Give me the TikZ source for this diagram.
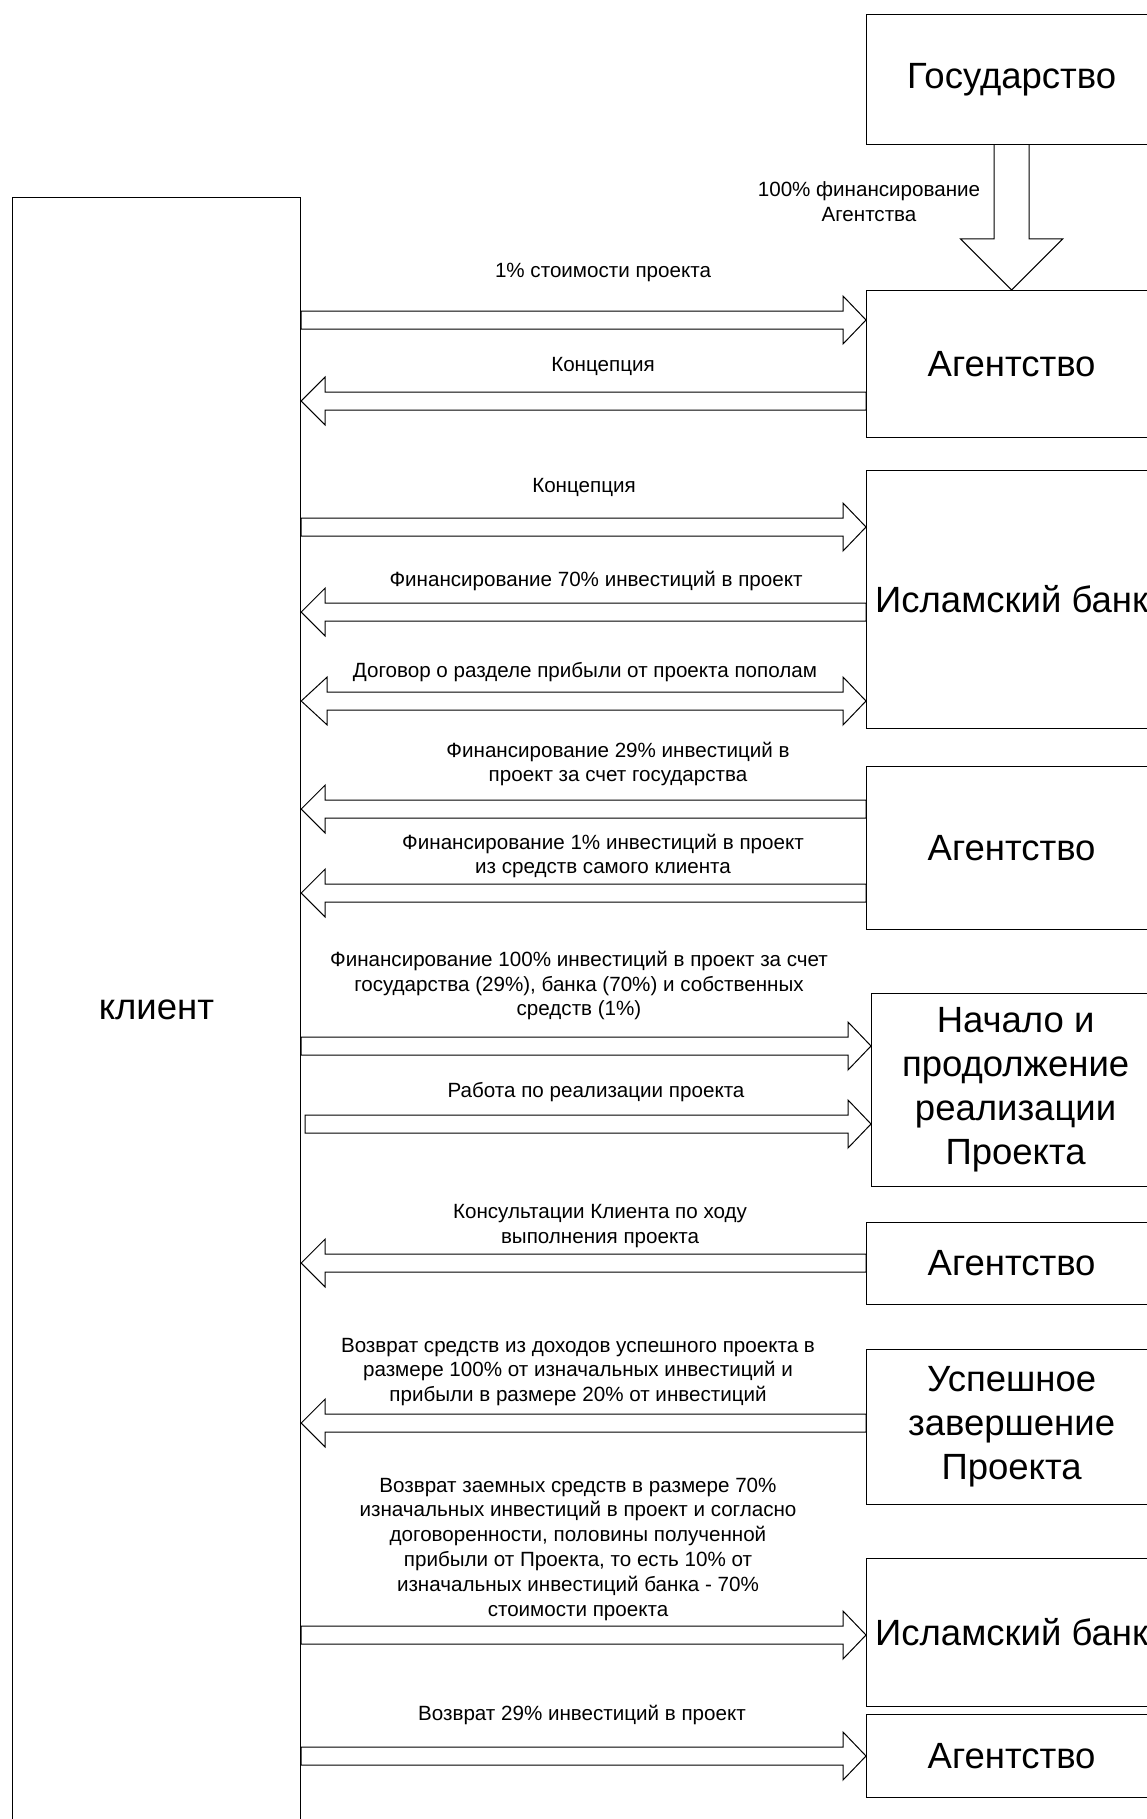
\documentclass[tikz,border=0pt]{standalone}
\usepackage{fontspec}
\setmainfont{Liberation Sans}
\usetikzlibrary{calc}
\newcommand\rightblock[2]{\draw[blk] ($(#1)+(0,-9)$) -- ($(#2)+(-23,-9)$) -- ($(#2)+(-23,-24)$) -- (#2) -- ($(#2)+(-23,24)$) -- ($(#2)+(-23,9)$) -- ($(#1)+(0,9)$) -- cycle;}
\newcommand\leftblock[2]{\draw[blk] (#1) -- ($(#1)+(24,-24)$) -- ($(#1)+(24,-9)$) -- ($(#2)+(0,-9)$) -- ($(#2)+(0,9)$) -- ($(#1)+(24,9)$) -- ($(#1)+(24,24)$) -- cycle;}
\newcommand\bothblock[2]{\draw[blk] (#1) -- ($(#1)+(26,-24)$) -- ($(#1)+(26,-9)$) -- ($(#2)+(-23,-9)$) -- ($(#2)+(-23,-24)$) -- (#2) -- ($(#2)+(-23,24)$) -- ($(#2)+(-23,9)$) -- ($(#1)+(26,9)$) -- ($(#1)+(26,24)$) -- cycle;}
\begin{document}
\begin{tikzpicture}[x=1pt,y=-1pt,
  box/.style={draw=black,line width=1.2pt,anchor=north west,inner sep=0pt,align=center,
    font=\fontsize{36.5}{44}\selectfont,minimum width=290pt},
  lbl/.style={align=center,inner sep=0pt,font=\fontsize{20.6}{24.8}\selectfont},
  blk/.style={draw=black,line width=1pt,line join=miter}]
\useasboundingbox (0,0) rectangle (1147,1819);

% boxes
\node[box,minimum width=288.4pt,minimum height=1624pt] (client) at (11.6,197) {клиент};
\node[box,minimum height=130pt] (gos) at (866,14) {Государство};
\node[box,minimum height=147pt] (ag1) at (866,290) {Агентство};
\node[box,minimum height=258pt] (isl1) at (866,470) {Исламский банк};
\node[box,minimum height=163pt] (ag2) at (866,766) {Агентство};
\node[box,minimum width=288pt,minimum height=193pt] (start) at (871,993) {Начало и\\продолжение\\реализации\\Проекта};
\node[box,minimum height=82pt] (ag3) at (866,1222) {Агентство};
\node[box,minimum height=155pt] (succ) at (866,1349) {Успешное\\завершение\\Проекта};
\node[box,minimum height=148pt] (isl2) at (866,1558) {Исламский банк};
\node[box,minimum height=83pt] (ag4) at (866,1714) {Агентство};

% down arrow
\draw[blk] ($(gos.south)+(-17.5,0)$) -- ($(ag1.north)+(-17.5,-51)$) -- ($(ag1.north)+(-51,-51)$) -- (ag1.north) -- ($(ag1.north)+(51,-51)$) -- ($(ag1.north)+(17.5,-51)$) -- ($(gos.south)+(17.5,0)$);
\node[lbl] (lgos) at (869,202) {100\% финансирование\\Агентства};

% anchor points of horizontal arrows
\path (client.east |- 0,320) coordinate (a1s) (ag1.west |- 0,320) coordinate (a1e)
      (client.east |- 0,401) coordinate (a2s) (ag1.west |- 0,401) coordinate (a2e)
      (client.east |- 0,527) coordinate (a3s) (isl1.west |- 0,527) coordinate (a3e)
      (client.east |- 0,612) coordinate (a4s) (isl1.west |- 0,612) coordinate (a4e)
      (client.east |- 0,701) coordinate (a5s) (isl1.west |- 0,701) coordinate (a5e)
      (client.east |- 0,809) coordinate (a6s) (ag2.west |- 0,809) coordinate (a6e)
      (client.east |- 0,893) coordinate (a7s) (ag2.west |- 0,893) coordinate (a7e)
      (client.east |- 0,1046) coordinate (a8s) (start.west |- 0,1046) coordinate (a8e)
      ($(client.east |- 0,1124)+(4,0)$) coordinate (a9s) (start.west |- 0,1124) coordinate (a9e)
      (client.east |- 0,1263) coordinate (a10s) (ag3.west |- 0,1263) coordinate (a10e)
      (client.east |- 0,1423) coordinate (a11s) (succ.west |- 0,1423) coordinate (a11e)
      (client.east |- 0,1635) coordinate (a12s) (isl2.west |- 0,1635) coordinate (a12e)
      (client.east |- 0,1756) coordinate (a13s) (ag4.west |- 0,1756) coordinate (a13e);

\rightblock{a1s}{a1e}
\node[lbl] (l1) at (603,272) {1\% стоимости проекта};
\leftblock{a2s}{a2e}
\node[lbl] (l2) at (603,366) {Концепция};
\rightblock{a3s}{a3e}
\node[lbl] (l3) at (584,487) {Концепция};
\leftblock{a4s}{a4e}
\node[lbl] (l4) at (596,581) {Финансирование 70\% инвестиций в проект};
\bothblock{a5s}{a5e}
\node[lbl] (l5) at (585,672) {Договор о разделе прибыли от проекта пополам};
\leftblock{a6s}{a6e}
\node[lbl] (l6) at (618,764) {Финансирование 29\% инвестиций в\\проект за счет государства};
\leftblock{a7s}{a7e}
\node[lbl] (l7) at (603,856) {Финансирование 1\% инвестиций в проект\\из средств самого клиента};
\rightblock{a8s}{a8e}
\node[lbl] (l8) at (579,985.5) {Финансирование 100\% инвестиций в проект за счет\\государства (29\%), банка (70\%) и собственных\\средств (1\%)};
\rightblock{a9s}{a9e}
\node[lbl] (l9) at (596,1092) {Работа по реализации проекта};
\leftblock{a10s}{a10e}
\node[lbl] (l10) at (600,1226) {Консультации Клиента по ходу\\выполнения проекта};
\leftblock{a11s}{a11e}
\node[lbl] (l11) at (578,1372) {Возврат средств из доходов успешного проекта в\\размере 100\% от изначальных инвестиций и\\прибыли в размере 20\% от инвестиций};
\rightblock{a12s}{a12e}
\node[lbl] (l12) at (578,1549) {Возврат заемных средств в размере 70\%\\изначальных инвестиций в проект и согласно\\договоренности, половины полученной\\прибыли от Проекта, то есть 10\% от\\изначальных инвестиций банка - 70\%\\стоимости проекта};
\rightblock{a13s}{a13e}
\node[lbl] (l13) at (582,1715) {Возврат 29\% инвестиций в проект};
\end{tikzpicture}
\end{document}
